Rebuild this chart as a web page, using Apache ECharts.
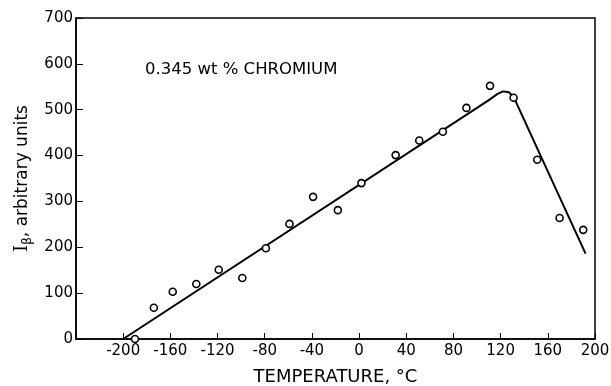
<!DOCTYPE html>
<html>
<head>
<meta charset="utf-8">
<script src="https://cdn.jsdelivr.net/npm/echarts@6/dist/echarts.min.js"></script>
<style>html,body{margin:0;padding:0;background:#fff}#c{width:611px;height:386px}</style>
</head>
<body>
<div id="c"></div>
<script>
// Measured points
var temperature = [-190, -174, -158, -138, -119, -99, -79, -59, -39, -18, 2, 31, 51, 71, 91, 111, 131, 151, 170, 190];
var intensity   = [0, 68, 103, 120, 151, 133, 198, 251, 310, 281, 340, 401, 433, 452, 504, 552, 526, 391, 264, 238];
// Fitted curve
var fitTemperature = [-200, 110, 117, 122, 127, 131, 192];
var fitIntensity   = [0, 521, 534, 540, 538, 528, 186];
// Axis ticks
var xTicks = [-200, -160, -120, -80, -40, 0, 40, 80, 120, 160, 200];
var yTicks = [0, 100, 200, 300, 400, 500, 600, 700];
var annotation = '0.345 wt % CHROMIUM';

var font = 'DejaVu Sans';
var chart = echarts.init(document.getElementById('c'), null, {renderer: 'canvas'});
var pts = temperature.map(function (t, i) { return [t, intensity[i]]; });
var fit = fitTemperature.map(function (t, i) { return [t, fitIntensity[i]]; });
chart.setOption({
  animation: false,
  backgroundColor: '#fff',
  grid: {left: 76, right: 16, top: 18, bottom: 47, containLabel: false, outerBoundsMode: 'none',
    show: true, borderColor: '#000', borderWidth: 1.5, backgroundColor: 'transparent'},
  xAxis: {
    type: 'value', min: -240, max: 200, interval: 40,
    name: 'TEMPERATURE, °C', nameLocation: 'middle', nameGap: 29,
    nameTextStyle: {fontFamily: font, fontSize: 18, color: '#000'},
    axisLine: {show: true, onZero: false, lineStyle: {color: '#000', width: 1.5}},
    axisTick: {show: true, inside: true, length: 6, lineStyle: {color: '#000', width: 1}},
    axisLabel: {color: '#000', fontFamily: font, fontSize: 15, margin: 5,
      formatter: function (v) { return xTicks.indexOf(v) >= 0 ? String(v) : ''; }},
    splitLine: {show: false}
  },
  yAxis: {
    type: 'value', min: 0, max: 700, interval: 100,
    name: '{i|I}{s|β}, arbitrary units', nameLocation: 'middle', nameGap: 42, nameRotate: 90,
    nameTextStyle: {fontFamily: font, fontSize: 17, color: '#000',
      rich: {i: {fontFamily: 'DejaVu Serif', fontSize: 18, color: '#000'},
             s: {fontFamily: font, fontSize: 12, color: '#000', verticalAlign: 'bottom', padding: [10, 0, 0, 0]}}},
    axisLine: {show: true, onZero: false, lineStyle: {color: '#000', width: 1.5}},
    axisTick: {show: true, inside: true, length: 7, lineStyle: {color: '#000', width: 1}},
    axisLabel: {color: '#000', fontFamily: font, fontSize: 15, margin: 3,
      formatter: function (v) { return yTicks.indexOf(v) >= 0 ? String(v) : ''; }},
    splitLine: {show: false}
  },
  graphic: [{type: 'text', left: 145, top: 61, style: {text: annotation, fontFamily: font, fontSize: 16.5, fill: '#000'}}],
  series: [
    {type: 'line', data: fit, symbol: 'none', smooth: false, lineStyle: {color: '#000', width: 2}, z: 2},
    {type: 'scatter', data: pts, symbol: 'circle', symbolSize: 7,
      itemStyle: {color: '#fff', borderColor: '#000', borderWidth: 1.6, opacity: 1}, z: 3}
  ]
});
</script>
</body>
</html>
